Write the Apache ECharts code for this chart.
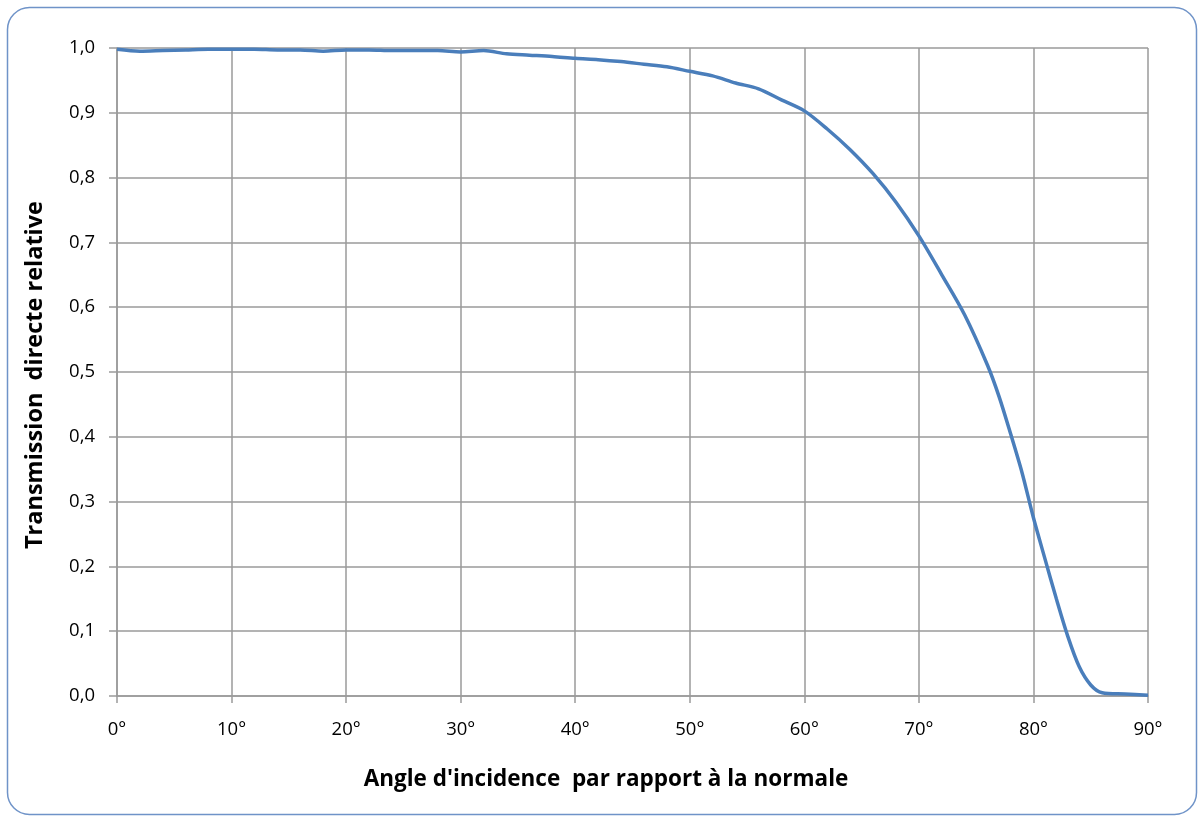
<!DOCTYPE html>
<html>
<head>
<meta charset="utf-8">
<script src="https://cdn.jsdelivr.net/npm/echarts@6/dist/echarts.min.js"></script>
<style>
html,body{margin:0;padding:0;background:#fff;}
#chart{width:1198px;height:816px;}
</style>
</head>
<body>
<div id="chart"></div>
<script>
const angles = [0,2,4,6,8,10,12,14,16,18,20,22,24,26,28,30,32,34,36,38,40,42,44,46,48,50,52,54,56,58,60,62,64,66,68,70,72,74,76,77,78,79,80,81,82,83,84,85,86,88,90];
const transmission = [0.998,0.995,0.996,0.997,0.998,0.998,0.998,0.997,0.997,0.995,0.997,0.997,0.996,0.996,0.996,0.994,0.996,0.991,0.989,0.987,0.984,0.982,0.979,0.975,0.971,0.964,0.957,0.946,0.937,0.920,0.903,0.875,0.843,0.806,0.762,0.710,0.650,0.588,0.510,0.462,0.405,0.345,0.275,0.212,0.150,0.092,0.045,0.017,0.005,0.003,0.001];
const xTitle = "Angle d'incidence  par rapport à la normale";
const yTitle = "Transmission  directe relative";

const chart = echarts.init(document.getElementById('chart'));
const font = '"Open Sans", sans-serif';
chart.setOption({
  animation:false,
  backgroundColor:'#fff',
  grid:{left:117, top:48, width:1031, height:648},
  xAxis:{
    type:'value', min:0, max:90, interval:10,
    axisLine:{show:true, lineStyle:{color:'#9a9a9a', width:1.5}},
    axisTick:{show:true, length:7, lineStyle:{color:'#9a9a9a', width:1.5}},
    splitLine:{show:true, lineStyle:{color:'#9a9a9a', width:1.5}},
    axisLabel:{formatter:'{value}°', color:'#000', fontSize:18.5, fontFamily:font, margin:24}
  },
  yAxis:{
    type:'value', min:0, max:1, interval:0.1,
    axisLine:{show:true, lineStyle:{color:'#9a9a9a', width:1.5}},
    axisTick:{show:true, length:8, lineStyle:{color:'#9a9a9a', width:1.5}},
    splitLine:{show:true, lineStyle:{color:'#9a9a9a', width:1.5}},
    axisLabel:{formatter:v=>v.toFixed(1).replace('.',','), color:'#000', fontSize:18.5, fontFamily:font, margin:22}
  },
  graphic:[
    {type:'rect', shape:{x:7.5,y:7.5,width:1189,height:807,r:22}, style:{fill:'none', stroke:'#6f93c8', lineWidth:1.5}, z:-1},
    {type:'text', x:606, y:780, style:{text:xTitle, fill:'#000', font:'bold 22.5px '+font, textAlign:'center', textVerticalAlign:'middle'}},
    {type:'text', x:35, y:375, rotation:Math.PI/2, style:{text:yTitle, fill:'#000', font:'bold 23.5px '+font, textAlign:'center', textVerticalAlign:'middle'}}
  ],
  series:[{
    type:'line', data:angles.map((a,i)=>[a,transmission[i]]),
    smooth:0.3, showSymbol:false,
    lineStyle:{color:'#4a7ebb', width:3.5}
  }]
});
</script>
</body>
</html>
